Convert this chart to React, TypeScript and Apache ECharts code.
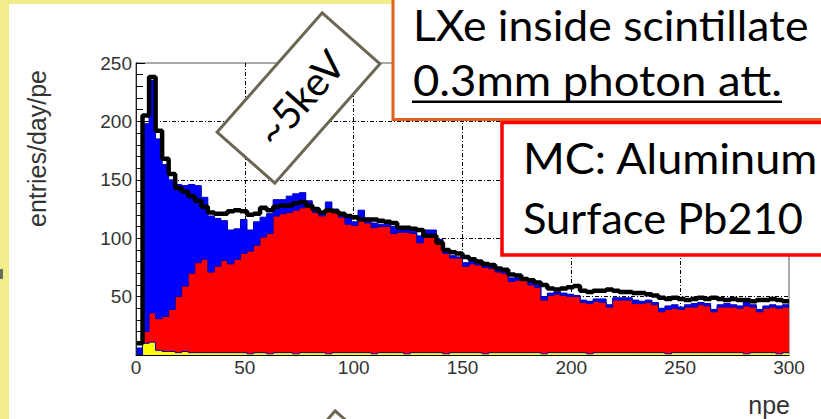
import React, { useEffect, useRef } from 'react';
import * as echarts from 'echarts';

// ---- data (bins of 3 npe from 0 to 300) ----
const BIN_WIDTH = 3;
const X_MIN = 0;
const X_MAX = 300;
const Y_MIN = 0;
const Y_MAX = 250;
const X_INTERVAL = 50;
const Y_INTERVAL = 50;

// measured data (black thick outline)
const dataCounts = [
  10, 205, 238, 192, 168, 155, 143, 140, 136, 132,
  127, 122, 121, 121, 123, 124, 123, 120, 121, 126,
  124, 127, 128, 128, 130, 131, 128, 125, 122, 124,
  123, 121, 119, 118, 116, 116, 116, 115, 114, 113,
  109, 109, 108, 107, 102, 102, 96, 90, 88, 87,
  84, 82, 80, 78, 77, 74, 73, 69, 68, 65,
  64, 62, 60, 57, 56, 57, 58, 59, 55, 54,
  55, 55, 56, 55, 54, 54, 53, 53, 52, 51,
  49, 48, 49, 48, 47, 48, 49, 48, 49, 48,
  47, 48, 47, 47, 46, 47, 47, 48, 47, 46,
];

// MC total (blue fill)
const blueCounts = [
  6, 198, 235, 185, 163, 150, 146, 145, 146, 145,
  135, 119, 117, 115, 107, 108, 116, 107, 114, 118,
  121, 133, 133, 136, 138, 139, 132, 126, 121, 131,
  125, 122, 119, 114, 124, 116, 113, 112, 112, 110,
  107, 107, 106, 102, 107, 107, 99, 89, 85, 84,
  79, 81, 79, 77, 76, 73, 72, 66, 66, 65,
  62, 60, 50, 53, 54, 53, 52, 51, 47, 46,
  48, 48, 43, 49, 49, 49, 47, 46, 47, 45,
  40, 42, 43, 41, 43, 44, 45, 44, 39, 43,
  44, 43, 42, 45, 43, 39, 42, 43, 42, 43,
];

// MC component (red fill)
const redCounts = [
  0, 20, 36, 31, 33, 39, 50, 59, 70, 79,
  82, 71, 76, 81, 78, 82, 87, 89, 94, 101,
  104, 119, 121, 122, 124, 126, 127, 122, 119, 123,
  122, 118, 112, 111, 117, 113, 109, 110, 110, 104,
  105, 105, 104, 96, 102, 102, 98, 87, 83, 83,
  76, 78, 77, 75, 74, 71, 70, 63, 64, 64,
  60, 58, 47, 51, 52, 51, 50, 50, 45, 44,
  46, 45, 41, 47, 47, 47, 44, 44, 45, 43,
  37, 39, 40, 39, 41, 41, 43, 42, 37, 41,
  41, 41, 40, 42, 41, 37, 40, 41, 40, 41,
];

// MC component (yellow fill)
const yellowCounts = [
  0, 10, 11, 4, 3, 3, 2, 3, 2, 2,
  2, 2, 2, 2, 2, 2, 2, 1, 2, 2,
  1, 2, 2, 2, 1, 2, 2, 2, 2, 1,
  2, 2, 2, 2, 2, 2, 1, 2, 2, 2,
  2, 1, 2, 2, 2, 2, 2, 1, 2, 2,
  2, 2, 2, 1, 2, 2, 2, 2, 2, 2,
  2, 2, 1, 2, 2, 2, 2, 2, 2, 1,
  2, 2, 2, 2, 2, 2, 2, 2, 2, 2,
  2, 1, 2, 2, 2, 2, 2, 2, 2, 2,
  2, 2, 2, 1, 2, 2, 2, 2, 1, 2,
];

const xTitle = 'npe';
const yTitle = 'entries/day/pe';
const boxNote1 = ['LXe inside scintillate', '0.3mm photon att.'];
const boxNote2 = ['MC: Aluminum', 'Surface Pb210'];
const energyNote = '~5keV';

const toSteps = (vals: number[]) => {
  const pts = vals.map((v, k) => [k * BIN_WIDTH, v]);
  pts.push([vals.length * BIN_WIDTH, vals[vals.length - 1]]);
  return pts;
};

const OUTLINE = '#0000b0';
const CAL = 'Lato';
const ARIAL = '"Liberation Sans", Arial, sans-serif';

function histSeries(name: string, vals: number[], fill: string | null, line: string, lw: number, z: number) {
  return {
    name,
    type: 'line',
    step: 'end',
    data: toSteps(vals),
    symbol: 'none',
    showSymbol: false,
    silent: true,
    z,
    lineStyle: { color: line, width: lw },
    areaStyle: fill ? { color: fill, opacity: 1 } : undefined,
  };
}

const ROT = (48.6 * Math.PI) / 180;

function olive(x: number, y: number) {
  return {
    type: 'group',
    x,
    y,
    rotation: ROT,
    z: 100,
    children: [
      {
        type: 'rect',
        z: 100,
        shape: { x: -79.5, y: -38.5, width: 159, height: 77 },
        style: { fill: '#ffffff', stroke: '#6b6754', lineWidth: 3 },
      },
    ],
  };
}

export default function App() {
  const ref = useRef<HTMLDivElement>(null);
  useEffect(() => {
    if (!ref.current) return;
    const chart = echarts.init(ref.current, undefined, { renderer: 'svg' });
    const labelStyle = { fontSize: 19, color: '#333', fontFamily: ARIAL };
    const split = { show: true, showMinLine: false, showMaxLine: false, lineStyle: { color: '#000', width: 1, type: [4, 2, 1, 2] } };
    chart.setOption({
      animation: false,
      grid: { left: 136, right: 32, top: 63, bottom: 64, show: true, borderColor: '#555', borderWidth: 1 },
      xAxis: {
        type: 'value', min: X_MIN, max: X_MAX, interval: X_INTERVAL,
        axisLine: { show: true, lineStyle: { color: '#000', width: 1 } },
        axisTick: { show: false },
        axisLabel: { ...labelStyle, margin: 3 },
        splitLine: split,
      },
      yAxis: [
        {
          type: 'value', min: Y_MIN, max: Y_MAX, interval: Y_INTERVAL,
          axisLine: { show: true, lineStyle: { color: '#000', width: 1 } },
          axisTick: { show: false },
          axisLabel: { ...labelStyle, margin: 4, showMinLabel: false },
          splitLine: split,
        },
        {
          type: 'value', min: Y_MIN, max: Y_MAX, interval: Y_INTERVAL, position: 'left', z: 10,
          axisLine: { show: true, lineStyle: { color: '#222', width: 1 } },
          axisTick: { show: true, inside: true, length: 9, lineStyle: { color: '#000' } },
          minorTick: { show: true, splitNumber: 5, length: 7, lineStyle: { color: '#000' } },
          axisLabel: { show: false },
          splitLine: { show: false },
        },
      ],
      series: [
        histSeries('total', blueCounts, '#0000ff', OUTLINE, 1, 2),
        histSeries('red', redCounts, '#ff0000', OUTLINE, 1, 3),
        histSeries('yellow', yellowCounts, '#ffff00', OUTLINE, 1, 4),
        histSeries('data', dataCounts, null, '#000000', 4.5, 5),
      ],
      graphic: {
        elements: [
          {
            type: 'rect', z: 100,
            shape: { x: 393, y: -10, width: 450, height: 129.5 },
            style: { fill: '#ffffff', stroke: '#e2601e', lineWidth: 3 },
          },
          {
            type: 'text', z: 101, x: 413, y: 25, scaleX: 1.06,
            style: { text: boxNote1[0], fontSize: 42, fontFamily: CAL, fill: '#000', align: 'left', verticalAlign: 'middle' },
          },
          {
            type: 'text', z: 101, x: 413, y: 79, scaleX: 1.057,
            style: { text: boxNote1[1], fontSize: 43, fontFamily: CAL, fill: '#000', align: 'left', verticalAlign: 'middle' },
          },
          {
            type: 'rect', z: 101,
            shape: { x: 412, y: 100.5, width: 370, height: 2.5 },
            style: { fill: '#000' },
          },
          {
            type: 'rect', z: 102,
            shape: { x: 502, y: 122.5, width: 340, height: 132.5 },
            style: { fill: '#ffffff', stroke: '#ff0000', lineWidth: 3.5 },
          },
          {
            type: 'text', z: 103, x: 523, y: 157, scaleX: 1.047,
            style: { text: boxNote2[0], fontSize: 43, fontFamily: CAL, fill: '#000', align: 'left', verticalAlign: 'middle' },
          },
          {
            type: 'text', z: 103, x: 523, y: 217, scaleX: 1.01,
            style: { text: boxNote2[1], fontSize: 43, fontFamily: CAL, fill: '#000', align: 'left', verticalAlign: 'middle' },
          },
          olive(298.5, 98),
          {
            type: 'text', z: 104, x: 300, y: 98, rotation: ROT,
            style: { text: energyNote, fontSize: 40, fontFamily: CAL, fill: '#000', align: 'center', verticalAlign: 'middle' },
          },
          olive(311.5, 496),
          {
            type: 'text', z: 100, x: 790, y: 404.5,
            style: { text: xTitle, fontSize: 25, fontFamily: ARIAL, fill: '#333', align: 'right', verticalAlign: 'middle' },
          },
          {
            type: 'text', z: 100, x: 37, y: 148.5, rotation: Math.PI / 2,
            style: { text: yTitle, fontSize: 25, fontFamily: ARIAL, fill: '#333', align: 'center', verticalAlign: 'middle' },
          },
        ],
      },
    });
    return () => chart.dispose();
  }, []);

  return (
    <div style={{ position: 'fixed', left: 0, top: 0, width: 821, height: 419, background: '#f3ec8a', overflow: 'hidden' }}>
      <div style={{ position: 'absolute', left: 9, top: 4, right: 0, bottom: 0, background: '#ffffff' }} />
      <div style={{ position: 'absolute', left: 0, top: 269, width: 3, height: 10, background: '#6b6b60' }} />
      <div ref={ref} style={{ position: 'absolute', left: 0, top: 0, width: 821, height: 419 }} />
    </div>
  );
}
